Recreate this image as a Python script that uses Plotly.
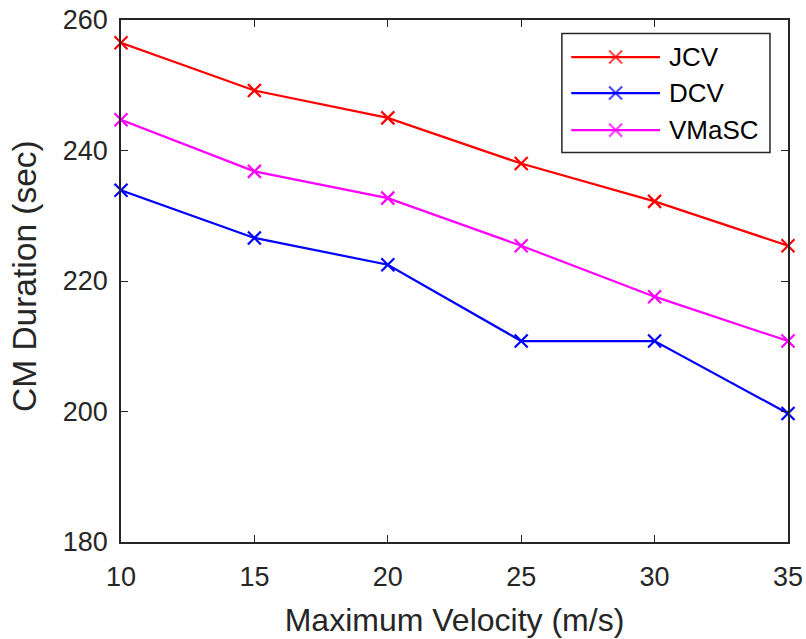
import plotly.graph_objects as go

velocity = [10, 15, 20, 25, 30, 35]
jcv = [256.5, 249.2, 245.0, 238.0, 232.2, 225.4]
dcv = [233.9, 226.6, 222.5, 210.8, 210.8, 199.7]
vmasc = [244.7, 236.8, 232.7, 225.4, 217.6, 210.8]

series_names = ["JCV", "DCV", "VMaSC"]
series_values = [jcv, dcv, vmasc]
series_colors = ["#FF0000", "#0000FF", "#FF00FF"]

x_ticks = [10, 15, 20, 25, 30, 35]
y_ticks = [180, 200, 220, 240, 260]

FONT = "Liberation Sans, Arial, sans-serif"

fig = go.Figure()
for name, vals, color in zip(series_names, series_values, series_colors):
    fig.add_trace(go.Scatter(
        x=velocity, y=vals, name=name, mode="lines+markers",
        line=dict(color=color, width=2.2),
        marker=dict(symbol="x-thin", size=13, line=dict(color=color, width=2.2), color=color),
        cliponaxis=False, showlegend=False,
    ))

# custom legend (MATLAB style, long sample lines) on an overlay axis in [0,1] units
leg_left, leg_right, leg_top, leg_bottom = 0.661, 0.973, 0.974, 0.746
row_y = [0.929, 0.860, 0.789]
line_x0, line_x1, text_x = 0.675, 0.808, 0.818
for name, color, ry in zip(series_names, series_colors, row_y):
    fig.add_trace(go.Scatter(
        x=[line_x0, (line_x0 + line_x1) / 2, line_x1], y=[ry, ry, ry],
        xaxis="x2", yaxis="y2", mode="lines+markers",
        line=dict(color=color, width=2.2),
        marker=dict(symbol="x-thin", size=[0, 13, 0], line=dict(color=color, width=2.2), color=color),
        showlegend=False, hoverinfo="skip", cliponaxis=False,
    ))
    fig.add_annotation(
        x=text_x, y=ry, xref="x2", yref="y2", text=name, showarrow=False,
        xanchor="left", yanchor="middle",
        font=dict(family=FONT, size=26, color="#000000"),
    )
fig.add_shape(type="rect", xref="x2", yref="y2",
              x0=leg_left, x1=leg_right, y0=leg_bottom, y1=leg_top,
              line=dict(color="#262626", width=1.5), fillcolor="white", layer="below")

axis_common = dict(
    showline=True, linecolor="#262626", linewidth=1.5, mirror="ticks",
    ticks="inside", ticklen=7, tickwidth=1.2, tickcolor="#262626",
    showgrid=False, zeroline=False,
    tickfont=dict(family=FONT, size=27, color="#262626"),
)

fig.update_layout(
    xaxis=dict(range=[10, 35], tickvals=x_ticks, ticktext=[str(v) for v in x_ticks],
               ticklabelstandoff=10,
               title=dict(text="Maximum Velocity (m/s)", standoff=17,
                          font=dict(family=FONT, size=32, color="#262626")),
               **axis_common),
    yaxis=dict(range=[180, 260], tickvals=y_ticks, ticktext=[str(v) for v in y_ticks],
               ticklabelstandoff=6, **axis_common),
    xaxis2=dict(overlaying="x", range=[0, 1], visible=False, fixedrange=True),
    yaxis2=dict(overlaying="y", range=[0, 1], visible=False, fixedrange=True),
)

# y-axis title placed as a rotated annotation to match reference position
fig.add_annotation(
    xref="paper", yref="paper", x=0, y=0.5086, xshift=-96.5,
    text="CM Duration (sec)", textangle=-90, showarrow=False,
    xanchor="center", yanchor="middle",
    font=dict(family=FONT, size=33.5, color="#262626"),
)

fig.update_layout(
    width=806, height=639,
    margin=dict(l=121, r=18, t=20, b=97, autoexpand=False),
    paper_bgcolor="white", plot_bgcolor="white",
    showlegend=False,
)

fig.write_html("out.html", config={"displayModeBar": False},
               post_script="document.body.style.margin='0';document.body.style.padding='0';")
